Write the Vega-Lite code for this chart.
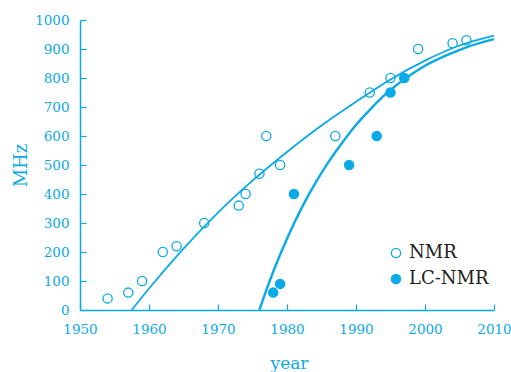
{
  "$schema": "https://vega.github.io/schema/vega-lite/v6.json",
  "width": 414,
  "height": 290,
  "autosize": {"type": "none"},
  "padding": {"left": 80, "top": 20, "right": 17, "bottom": 62},
  "background": "white",
  "config": {"view": {"stroke": null}, "font": "DejaVu Serif"},
  "datasets": {
    "nmrCurve": [
      {"year": 1957.5, "mhz": 0}, {"year": 1960, "mhz": 74}, {"year": 1965, "mhz": 212},
      {"year": 1970, "mhz": 336}, {"year": 1975, "mhz": 446}, {"year": 1980, "mhz": 545},
      {"year": 1985, "mhz": 636}, {"year": 1990, "mhz": 718}, {"year": 1995, "mhz": 795},
      {"year": 2000, "mhz": 860}, {"year": 2005, "mhz": 912}, {"year": 2010, "mhz": 946}
    ],
    "lcCurve": [
      {"year": 1976, "mhz": 0}, {"year": 1977, "mhz": 68}, {"year": 1978, "mhz": 132},
      {"year": 1980, "mhz": 246}, {"year": 1982, "mhz": 346}, {"year": 1984, "mhz": 433},
      {"year": 1986, "mhz": 510}, {"year": 1988, "mhz": 577}, {"year": 1990, "mhz": 638},
      {"year": 1992, "mhz": 690}, {"year": 1994, "mhz": 738}, {"year": 1996, "mhz": 778},
      {"year": 1998, "mhz": 812}, {"year": 2000, "mhz": 842}, {"year": 2003, "mhz": 877},
      {"year": 2006, "mhz": 906}, {"year": 2010, "mhz": 934}
    ],
    "points": [
      {"year": 1954, "mhz": 40, "method": "NMR"},
      {"year": 1957, "mhz": 60, "method": "NMR"},
      {"year": 1959, "mhz": 100, "method": "NMR"},
      {"year": 1962, "mhz": 200, "method": "NMR"},
      {"year": 1964, "mhz": 220, "method": "NMR"},
      {"year": 1968, "mhz": 300, "method": "NMR"},
      {"year": 1973, "mhz": 360, "method": "NMR"},
      {"year": 1974, "mhz": 400, "method": "NMR"},
      {"year": 1976, "mhz": 470, "method": "NMR"},
      {"year": 1977, "mhz": 600, "method": "NMR"},
      {"year": 1979, "mhz": 500, "method": "NMR"},
      {"year": 1987, "mhz": 600, "method": "NMR"},
      {"year": 1992, "mhz": 750, "method": "NMR"},
      {"year": 1995, "mhz": 800, "method": "NMR"},
      {"year": 1999, "mhz": 900, "method": "NMR"},
      {"year": 2004, "mhz": 920, "method": "NMR"},
      {"year": 2006, "mhz": 930, "method": "NMR"},
      {"year": 1978, "mhz": 60, "method": "LC-NMR"},
      {"year": 1979, "mhz": 90, "method": "LC-NMR"},
      {"year": 1981, "mhz": 400, "method": "LC-NMR"},
      {"year": 1989, "mhz": 500, "method": "LC-NMR"},
      {"year": 1993, "mhz": 600, "method": "LC-NMR"},
      {"year": 1995, "mhz": 750, "method": "LC-NMR"},
      {"year": 1997, "mhz": 800, "method": "LC-NMR"}
    ]
  },
  "encoding": {
    "x": {
      "field": "year", "type": "quantitative",
      "scale": {"domain": [1950, 2010], "nice": false, "zero": false},
      "axis": {
        "values": [1950, 1960, 1970, 1980, 1990, 2000, 2010],
        "format": "d", "title": "year", "grid": false, "labelFlush": false,
        "tickSize": -6, "labelPadding": 18,
        "domainColor": "#0aa9e8", "tickColor": "#0aa9e8", "labelColor": "#0aa9e8", "titleColor": "#0aa9e8",
        "domainWidth": 1.5, "tickWidth": 1.2,
        "labelFont": "DejaVu Serif", "labelFontSize": 13.5,
        "titleFont": "DejaVu Serif", "titleFontSize": 17, "titleFontWeight": "normal",
        "titleX": 209, "titleY": 58, "titleBaseline": "alphabetic", "titleAlign": "center"
      }
    },
    "y": {
      "field": "mhz", "type": "quantitative",
      "scale": {"domain": [0, 1000], "nice": false},
      "axis": {
        "values": [0, 100, 200, 300, 400, 500, 600, 700, 800, 900, 1000],
        "format": "d", "title": "MHz", "grid": false, "labelFlush": false,
        "tickSize": -6, "labelPadding": 17,
        "domainColor": "#0aa9e8", "tickColor": "#0aa9e8", "labelColor": "#0aa9e8", "titleColor": "#0aa9e8",
        "domainWidth": 1.5, "tickWidth": 1.2,
        "labelFont": "DejaVu Serif", "labelFontSize": 13.5,
        "titleFont": "DejaVu Serif", "titleFontSize": 18, "titleFontWeight": "normal",
        "titleX": -54, "titleY": 145, "titleBaseline": "alphabetic", "titleAlign": "center", "titleAngle": -90
      }
    }
  },
  "layer": [
    {
      "data": {"name": "nmrCurve"},
      "mark": {"type": "line", "color": "#0aa9e8", "strokeWidth": 1.8, "interpolate": "monotone"}
    },
    {
      "data": {"name": "lcCurve"},
      "mark": {"type": "line", "color": "#0aa9e8", "strokeWidth": 2.4, "interpolate": "monotone"}
    },
    {
      "data": {"name": "points"},
      "mark": {"type": "point", "shape": "circle", "filled": true, "size": 85, "stroke": "#0aa9e8", "strokeWidth": 1.3, "opacity": 1},
      "encoding": {
        "fill": {
          "field": "method", "type": "nominal",
          "scale": {"domain": ["NMR", "LC-NMR"], "range": ["transparent", "#0aa9e8"]},
          "legend": {
            "title": null, "orient": "none", "legendX": 307, "legendY": 224,
            "symbolType": "circle", "symbolSize": 85, "symbolStrokeColor": "#0aa9e8", "symbolStrokeWidth": 1.3, "symbolOpacity": 1,
            "labelFont": "DejaVu Serif", "labelFontSize": 18, "labelColor": "#231f20", "labelOffset": 4, "rowPadding": 8
          }
        }
      }
    }
  ]
}
